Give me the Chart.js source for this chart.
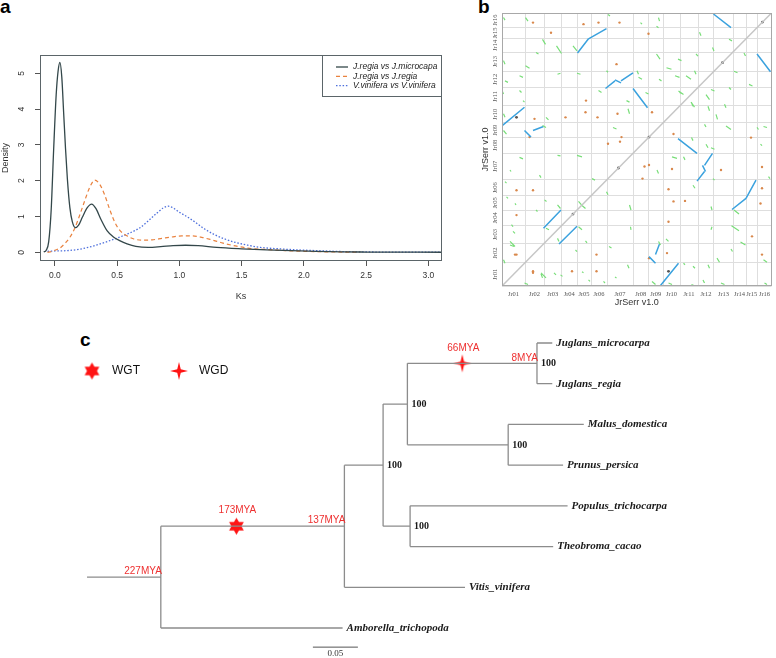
<!DOCTYPE html>
<html>
<head>
<meta charset="utf-8">
<script src="https://cdn.jsdelivr.net/npm/chart.js@4.4.1/dist/chart.umd.min.js"></script>
<style>
  body { margin: 0; background: #fff; width: 776px; height: 658px; position: relative; overflow: hidden; font-family: "Liberation Sans", Arial, sans-serif; }
  canvas { position: absolute; }
  .tag { position: absolute; font-weight: bold; font-size: 19px; line-height: 19px; color: #000; }
</style>
</head>
<body>
<div class="tag" style="left:0;top:-3px">a</div>
<div class="tag" style="left:478px;top:-3px">b</div>
<div class="tag" style="left:80px;top:330px">c</div>
<canvas id="ks" width="452" height="306" style="left:0;top:0"></canvas>
<canvas id="dot" width="300" height="312" style="left:476px;top:0"></canvas>
<canvas id="tree" width="776" height="346" style="left:0;top:312px"></canvas>
<script>
// ---- a: Ks density curves
const pairLabels = ['J.regia vs J.microcapa', 'J.regia vs J.regia', 'V.vinifera vs V.vinifera'];
const ksMicro = [-0.09, -0.07, -0.05, -0.03, -0.01, 0.01, 0.025, 0.04, 0.055, 0.07, 0.085, 0.1, 0.12, 0.14, 0.165, 0.19, 0.22, 0.26, 0.295, 0.33, 0.37, 0.42, 0.47, 0.52, 0.58, 0.65, 0.75, 0.85, 0.95, 1.05, 1.15, 1.3, 1.5, 1.7, 1.9, 2.1, 2.3, 2.5, 2.8, 3.11];
const denMicro = [0.01, 0.06, 0.3, 1.2, 2.9, 4.4, 5.05, 5.3, 4.9, 3.9, 2.9, 2.05, 1.25, 0.85, 0.69, 0.76, 0.98, 1.25, 1.35, 1.22, 0.92, 0.6, 0.43, 0.33, 0.24, 0.17, 0.14, 0.16, 0.19, 0.2, 0.19, 0.14, 0.1, 0.07, 0.05, 0.03, 0.015, 0.01, 0.006, 0.004];
const ksRegia = [-0.06, -0.03, 0.0, 0.04, 0.08, 0.12, 0.16, 0.2, 0.24, 0.28, 0.32, 0.36, 0.4, 0.44, 0.48, 0.52, 0.57, 0.63, 0.7, 0.78, 0.86, 0.94, 1.02, 1.1, 1.18, 1.26, 1.35, 1.45, 1.55, 1.7, 1.85, 2.0, 2.2, 2.45];
const denRegia = [0.0, 0.02, 0.06, 0.12, 0.25, 0.42, 0.68, 1.05, 1.45, 1.82, 2.02, 1.9, 1.6, 1.2, 0.85, 0.62, 0.48, 0.38, 0.34, 0.35, 0.39, 0.43, 0.46, 0.46, 0.42, 0.35, 0.26, 0.18, 0.12, 0.08, 0.05, 0.03, 0.015, 0.005];
const ksVitis = [-0.06, 0.0, 0.1, 0.2, 0.3, 0.4, 0.5, 0.6, 0.68, 0.75, 0.82, 0.87, 0.91, 0.96, 1.0, 1.06, 1.12, 1.2, 1.28, 1.36, 1.45, 1.55, 1.65, 1.8, 1.95, 2.1, 2.25, 2.45, 2.7, 3.11];
const denVitis = [0.03, 0.04, 0.05, 0.09, 0.17, 0.28, 0.4, 0.54, 0.68, 0.88, 1.1, 1.24, 1.29, 1.22, 1.12, 1.0, 0.86, 0.66, 0.5, 0.38, 0.28, 0.2, 0.14, 0.1, 0.07, 0.05, 0.03, 0.015, 0.008, 0.005];
const ksTicks = [0, 0.5, 1, 1.5, 2, 2.5, 3];
const densityTicks = [0, 1, 2, 3, 4, 5];

// ---- b: JrSerr self dot plot (Mb, upper triangle, mirrored when drawn)
const chroms = ['Jr01', 'Jr02', 'Jr03', 'Jr04', 'Jr05', 'Jr06', 'Jr07', 'Jr08', 'Jr09', 'Jr10', 'Jr11', 'Jr12', 'Jr13', 'Jr14', 'Jr15', 'Jr16'];
const chromLen = [46, 38, 35, 31, 28, 32, 52, 31, 29, 34, 36, 32, 38, 26, 23, 28];
const blueBlocks = [
  [1, 317, 45, 353], [45, 307, 58, 294], [62, 307, 83, 315], [83, 114, 118, 150],
  [151, 460, 173, 488], [173, 488, 209, 508], [207, 390, 226, 405], [226, 407, 238, 401],
  [238, 405, 262, 421], [262, 390, 291, 352], [423, 537, 458, 510]
];
const greenSegs = [
  [3, 530, 6, 525], [47, 530, 52, 523], [81, 487, 87, 477], [109, 474, 119, 459], [142, 474, 150, 464],
  [68, 461, 73, 458], [3, 445, 6, 438], [47, 435, 55, 430], [111, 418, 117, 420], [150, 420, 157, 418],
  [35, 415, 42, 412], [6, 405, 12, 402], [209, 425, 212, 422], [35, 386, 39, 382], [0, 386, 3, 379],
  [42, 366, 45, 363], [88, 333, 93, 328], [3, 340, 6, 333], [81, 317, 88, 313], [3, 307, 9, 300],
  [222, 313, 229, 310], [252, 350, 255, 340], [249, 366, 255, 363], [193, 386, 199, 382], [212, 536, 216, 533],
  [313, 530, 315, 523], [277, 520, 280, 517], [309, 458, 316, 448], [309, 513, 313, 510], [270, 425, 273, 418],
  [273, 412, 280, 408], [314, 408, 319, 405], [329, 431, 339, 428], [346, 415, 355, 412], [352, 448, 359, 445],
  [368, 415, 378, 408], [385, 425, 388, 418], [355, 382, 362, 379], [287, 382, 293, 379], [378, 363, 385, 353],
  [388, 458, 392, 454], [421, 471, 424, 464], [395, 501, 398, 494], [454, 487, 460, 484],
  [35, 254, 42, 251], [111, 258, 117, 257], [150, 258, 160, 255], [16, 229, 18, 226], [75, 219, 78, 214],
  [6, 206, 9, 203], [85, 170, 89, 167], [111, 160, 117, 153], [9, 176, 12, 173], [26, 163, 28, 160],
  [68, 150, 71, 147], [19, 121, 22, 117], [88, 114, 94, 111], [22, 108, 26, 104], [16, 88, 26, 78],
  [3, 52, 6, 45], [78, 24, 81, 16], [45, 6, 52, 3], [153, 167, 159, 160], [180, 212, 186, 209]
];
const orangeDots = [[62, 520], [163, 517], [193, 520], [235, 520], [98, 500], [229, 438], [65, 330], [127, 333], [167, 343], [191, 333], [231, 340], [168, 366], [239, 294], [236, 285], [55, 294], [212, 281], [293, 498], [300, 343], [62, 189], [29, 189], [29, 140], [29, 62], [62, 26]];
const darkDots = [[29, 333], [142, 142], [233, 233], [294, 294], [441, 441], [521, 521]];

// ---- c: species tree (branch length from root)
const taxa = ['Juglans_microcarpa', 'Juglans_regia', 'Malus_domestica', 'Prunus_persica', 'Populus_trichocarpa', 'Theobroma_cacao', 'Vitis_vinifera', 'Amborella_trichopoda'];
const taxonDepth = [0.517, 0.517, 0.552, 0.529, 0.534, 0.518, 0.42, 0.284];
const clades = [
  {name: 'jug', kids: ['Juglans_microcarpa', 'Juglans_regia'], depth: 0.5, support: 100},
  {name: 'ros', kids: ['Malus_domestica', 'Prunus_persica'], depth: 0.468, support: 100},
  {name: 'mal', kids: ['Populus_trichocarpa', 'Theobroma_cacao'], depth: 0.359, support: 100},
  {name: 'fag', kids: ['jug', 'ros'], depth: 0.356, support: 100},
  {name: 'rosids', kids: ['fag', 'mal'], depth: 0.329, support: 100},
  {name: 'core', kids: ['rosids', 'Vitis_vinifera'], depth: 0.286, support: null},
  {name: 'root', kids: ['core', 'Amborella_trichopoda'], depth: 0.082, support: null}
];
const eventType = ['WGT', 'WGD'];
const eventClade = ['core', 'jug'];
const eventDepth = [0.166, 0.417];
const eventAge = ['173MYA', '66MYA'];
const nodeAgeClade = ['root', 'core', 'jug'];
const nodeAge = ['227MYA', '137MYA', '8MYA'];

Chart.defaults.font.family = '"Liberation Sans", Arial, sans-serif';
const toXY = (xs, ys) => xs.map((x, i) => ({x, y: ys[i]}));

// R style box round the plot area
const frame = {
  id: 'frame',
  afterDraw(chart) {
    const {ctx, chartArea: a} = chart;
    ctx.save();
    ctx.strokeStyle = chart.canvas.id === 'ks' ? '#5b6569' : '#a8a8a8';
    ctx.lineWidth = 1;
    ctx.strokeRect(Math.round(a.left) + 0.5, Math.round(a.top) + 0.5, Math.round(a.width) - 1, Math.round(a.height) - 1);
    ctx.restore();
  }
};

const ksLegend = {
  id: 'ksLegend',
  afterDraw(chart) {
    const {ctx, chartArea: a} = chart;
    const w = 120, h = 41, x0 = Math.round(a.right) - w, y0 = Math.round(a.top);
    ctx.save();
    ctx.fillStyle = '#fff';
    ctx.fillRect(x0, y0, w, h);
    ctx.strokeStyle = '#5b6569';
    ctx.strokeRect(x0 + 0.5, y0 + 0.5, w - 1, h);
    ctx.font = 'italic 8.5px "Liberation Sans"';
    ctx.textBaseline = 'middle';
    chart.data.datasets.forEach((ds, i) => {
      const yy = y0 + 12 + i * 9.3;
      ctx.strokeStyle = ds.borderColor;
      ctx.lineWidth = ds.borderWidth;
      ctx.setLineDash(ds.borderDash || []);
      ctx.beginPath();
      ctx.moveTo(x0 + 14, yy);
      ctx.lineTo(x0 + 26, yy);
      ctx.stroke();
      ctx.setLineDash([]);
      ctx.fillStyle = '#222';
      ctx.fillText(ds.label, x0 + 31, yy);
    });
    ctx.restore();
  }
};

new Chart(document.getElementById('ks'), {
  type: 'line',
  data: {
    datasets: [
      {label: pairLabels[0], data: toXY(ksMicro, denMicro), borderColor: '#33474a', borderWidth: 1.3},
      {label: pairLabels[1], data: toXY(ksRegia, denRegia), borderColor: '#e9823f', borderWidth: 1.2, borderDash: [4, 3]},
      {label: pairLabels[2], data: toXY(ksVitis, denVitis), borderColor: '#4d6fdc', borderWidth: 1.3, borderDash: [1.5, 1.8]}
    ]
  },
  options: {
    responsive: false, animation: false, events: [],
    layout: {autoPadding: false, padding: {top: 55, right: 10, left: 0, bottom: 0}},
    elements: {point: {radius: 0}, line: {cubicInterpolationMode: 'monotone', fill: false}},
    scales: {
      x: {
        type: 'linear', min: -0.12, max: 3.11,
        afterBuildTicks: s => { s.ticks = ksTicks.map(v => ({value: v})); },
        grid: {drawOnChartArea: false, drawTicks: true, tickLength: 5, color: '#555'},
        border: {display: false},
        ticks: {font: {size: 8.5}, color: '#333', padding: 5, maxRotation: 0, autoSkip: false, callback: v => v.toFixed(1)},
        title: {display: true, text: 'Ks', font: {size: 9}, color: '#333', padding: {top: 0, bottom: 4}},
        afterFit: s => { s.height = 45; }
      },
      y: {
        min: -0.24, max: 5.51,
        afterBuildTicks: s => { s.ticks = densityTicks.map(v => ({value: v})); },
        grid: {drawOnChartArea: false, drawTicks: true, tickLength: 5, color: '#555'},
        border: {display: false},
        ticks: {font: {size: 8.5}, color: '#333', padding: 10.5, minRotation: 90, maxRotation: 90, crossAlign: 'center', autoSkip: false},
        title: {display: true, text: 'Density', font: {size: 9}, color: '#333', padding: {top: 0, bottom: 0}},
        afterFit: s => { s.width = 40; }
      }
    },
    plugins: {legend: {display: false}, tooltip: {enabled: false}}
  },
  plugins: [frame, ksLegend]
});

// ---- b
const genomeLen = chromLen.reduce((s, v) => s + v, 0);
const chromTicks = [0];
let acc = 0;
chromLen.forEach(l => { chromTicks.push(acc + l / 2); acc += l; chromTicks.push(acc); });

const mirrorSegs = segs => {
  const out = [];
  segs.forEach(([x1, y1, x2, y2]) => {
    out.push({x: x1, y: y1}, {x: x2, y: y2}, {x: null, y: null});
    out.push({x: y1, y: x1}, {x: y2, y: x2}, {x: null, y: null});
  });
  return out;
};
const mirrorPts = pts => pts.flatMap(([x, y]) => x === y ? [{x, y}] : [{x, y}, {x: y, y: x}]);

const chromAxis = isY => ({
  type: 'linear', min: 0, max: genomeLen,
  afterBuildTicks: s => { s.ticks = chromTicks.map(v => ({value: v})); },
  grid: {color: c => c.index % 2 === 0 ? '#dedede' : 'rgba(0,0,0,0)', drawTicks: false, lineWidth: 1},
  border: {display: false},
  ticks: {
    autoSkip: false, minRotation: isY ? 90 : 0, maxRotation: isY ? 90 : 0,
    crossAlign: isY ? 'center' : 'near', padding: isY ? 1 : 4.5,
    font: {family: '"Liberation Serif"', size: 6.5}, color: '#555',
    callback: (v, i) => i % 2 ? chroms[(i - 1) / 2] : ''
  },
  title: {display: true, text: 'JrSerr v1.0', font: {size: 9}, color: '#333'},
  afterFit: s => { if (isY) s.width = 26; else s.height = 26; }
});

new Chart(document.getElementById('dot'), {
  type: 'scatter',
  data: {
    datasets: [
      {data: [{x: 0, y: 0}, {x: genomeLen, y: genomeLen}], showLine: true, borderColor: '#c6c6c6', borderWidth: 1.5, pointRadius: 0},
      {data: mirrorSegs(greenSegs), showLine: true, spanGaps: false, borderColor: '#79de79', borderWidth: 1.2, pointRadius: 0},
      {data: mirrorSegs(blueBlocks), showLine: true, spanGaps: false, borderColor: '#3ba2de', borderWidth: 1.5, pointRadius: 0},
      {data: mirrorPts(orangeDots), pointRadius: 1.2, backgroundColor: '#d9884c', borderWidth: 0},
      {data: mirrorPts(darkDots), pointRadius: 1.4, backgroundColor: '#555', borderWidth: 0}
    ]
  },
  options: {
    responsive: false, animation: false, events: [],
    layout: {autoPadding: false, padding: {top: 13, right: 0, left: 0, bottom: 0}},
    scales: {x: chromAxis(false), y: chromAxis(true)},
    plugins: {legend: {display: false}, tooltip: {enabled: false}}
  },
  plugins: [frame]
});

// ---- c
const pos = {};
taxa.forEach((t, i) => { pos[t] = {x: taxonDepth[i], y: i}; });
clades.forEach(c => {
  const [a, b] = c.kids.map(k => pos[k]);
  pos[c.name] = {x: c.depth, y: (a.y + b.y) / 2};
});
const branches = [];
const seg = (x1, y1, x2, y2) => branches.push({x: x1, y: y1}, {x: x2, y: y2}, {x: null, y: null});
clades.forEach(c => {
  const p = pos[c.name];
  const kids = c.kids.map(k => pos[k]);
  seg(p.x, kids[0].y, p.x, kids[1].y);
  kids.forEach(k => seg(p.x, k.y, k.x, k.y));
});
const rootNode = pos[clades[clades.length - 1].name];
seg(0, rootNode.y, rootNode.x, rootNode.y);

function makeStar(points, outer, inner) {
  const c = document.createElement('canvas');
  const s = Math.ceil(outer * 2 + 2);
  c.width = c.height = s;
  const g = c.getContext('2d');
  g.fillStyle = '#ff1414';
  g.beginPath();
  for (let i = 0; i < points * 2; i++) {
    const r = i % 2 ? inner : outer;
    const ang = -Math.PI / 2 + i * Math.PI / points;
    g.lineTo(s / 2 + r * Math.cos(ang), s / 2 + r * Math.sin(ang));
  }
  g.closePath();
  g.fill();
  return c;
}
const starImg = {WGT: makeStar(6, 8.5, 5), WGD: makeStar(4, 9, 2.5)};

const treeText = {
  id: 'treeText',
  afterDraw(chart) {
    const {ctx, scales: {x, y}} = chart;
    ctx.save();
    ctx.textBaseline = 'middle';
    ctx.textAlign = 'left';
    ctx.fillStyle = '#1a1a1a';
    ctx.font = 'italic bold 11px "Liberation Serif"';
    taxa.forEach((t, i) => ctx.fillText(t, x.getPixelForValue(taxonDepth[i]) + 4, y.getPixelForValue(i)));
    ctx.font = 'bold 10px "Liberation Serif"';
    clades.forEach(c => {
      if (c.support == null) return;
      const p = pos[c.name];
      ctx.fillText(String(c.support), x.getPixelForValue(p.x) + 4, y.getPixelForValue(p.y) + 0.5);
    });
    // ages in red
    ctx.fillStyle = '#ee3030';
    ctx.font = '10px "Liberation Sans"';
    ctx.textBaseline = 'bottom';
    ctx.textAlign = 'right';
    nodeAgeClade.forEach((n, i) => ctx.fillText(nodeAge[i], x.getPixelForValue(pos[n].x) + 1, y.getPixelForValue(pos[n].y) - 0.5));
    ctx.textAlign = 'center';
    eventClade.forEach((n, i) => ctx.fillText(eventAge[i], x.getPixelForValue(eventDepth[i]) + 1, y.getPixelForValue(pos[n].y) - 10.5));
    // key
    ctx.textAlign = 'left';
    ctx.textBaseline = 'middle';
    ctx.fillStyle = '#111';
    ctx.font = '12px "Liberation Sans"';
    [['WGT', 92, 112], ['WGD', 179, 199]].forEach(([k, sx, tx]) => {
      const img = starImg[k];
      ctx.drawImage(img, sx - img.width / 2, 59 - img.height / 2);
      ctx.fillText(k, tx, 59);
    });
    // scale bar label
    const bx0 = x.getPixelForValue(0.251), bx1 = x.getPixelForValue(0.301), by = y.getPixelForValue(7.47);
    ctx.fillStyle = '#333';
    ctx.font = '9px "Liberation Serif"';
    ctx.textAlign = 'center';
    ctx.textBaseline = 'top';
    ctx.fillText('0.05', (bx0 + bx1) / 2, by + 2);
    ctx.restore();
  }
};

new Chart(document.getElementById('tree'), {
  type: 'scatter',
  data: {
    datasets: [
      {data: branches, showLine: true, spanGaps: false, borderColor: '#8c8c8c', borderWidth: 1.3, pointRadius: 0},
      {data: [{x: 0.251, y: 7.47}, {x: 0.301, y: 7.47}], showLine: true, borderColor: '#555', borderWidth: 1, pointRadius: 0},
      {data: eventClade.map((n, i) => ({x: eventDepth[i], y: pos[n].y})), pointRadius: 8, pointStyle: c => starImg[eventType[c.dataIndex]]}
    ]
  },
  options: {
    responsive: false, animation: false, events: [],
    layout: {autoPadding: false, padding: 0},
    scales: {
      x: {type: 'linear', display: false, min: -0.0967, max: 0.7656},
      y: {type: 'linear', display: false, reverse: true, min: -0.7614, max: 7.737}
    },
    plugins: {legend: {display: false}, tooltip: {enabled: false}}
  },
  plugins: [treeText]
});
</script>
</body>
</html>
